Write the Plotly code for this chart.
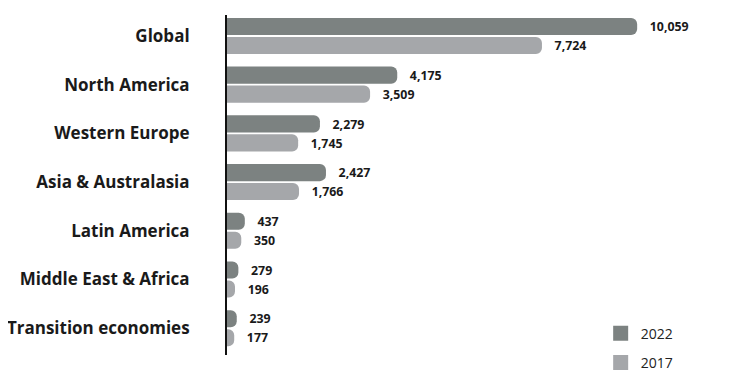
import plotly.graph_objects as go

regions = ["Global", "North America", "Western Europe", "Asia & Australasia",
           "Latin America", "Middle East & Africa", "Transition economies"]
v2022 = [10059, 4175, 2279, 2427, 437, 279, 239]
v2017 = [7724, 3509, 1745, 1766, 350, 196, 177]
years = ["2022", "2017"]

c2022 = "#7c8281"
c2017 = "#a5a7aa"
pad = "\u00a0\u00a0\u00a0"

fig = go.Figure()
for vals, col, yr in [(v2022, c2022, "2022"), (v2017, c2017, "2017")]:
    fig.add_trace(go.Bar(
        y=regions, x=vals, name=yr, orientation="h",
        marker=dict(color=col, line=dict(width=0)),
        text=[pad + f"{v:,}" for v in vals], textposition="outside",
        textfont=dict(family="Open Sans", size=13, color="#1a1a1a", weight="bold"),
        cliponaxis=False, showlegend=False,
    ))
for col, yr in [(c2022, "2022"), (c2017, "2017")]:
    fig.add_trace(go.Scatter(
        x=[None], y=[None], mode="markers", name=yr, legendgroup=yr,
        marker=dict(symbol="square", size=15, color=col),
    ))

fig.update_layout(
    width=721, height=376,
    margin=dict(l=219, r=29, t=7, b=29, autoexpand=False),
    paper_bgcolor="white", plot_bgcolor="white",
    barmode="group", bargap=0.22, bargroupgap=0.1, barcornerradius=6,
    font=dict(family="Open Sans", color="#1a1a1a"),
    showlegend=True,
    legend=dict(x=0.79, y=0.11, xanchor="left", yanchor="top",
                traceorder="grouped", tracegroupgap=8, itemsizing="trace",
                font=dict(size=14, family="Open Sans", color="#222"),
                bgcolor="rgba(0,0,0,0)"),
)
fig.update_xaxes(range=[0, 11600], visible=False, showgrid=False, zeroline=False,
                 automargin=False)
fig.update_yaxes(
    range=[6.55, -0.43], showgrid=False, zeroline=False, automargin=False,
    showline=True, linecolor="#111", linewidth=2,
    ticks="", ticklabelstandoff=32,
    tickfont=dict(family="Open Sans", size=17, color="#1a1a1a", weight="bold"),
)

fig.write_html("out.html")
